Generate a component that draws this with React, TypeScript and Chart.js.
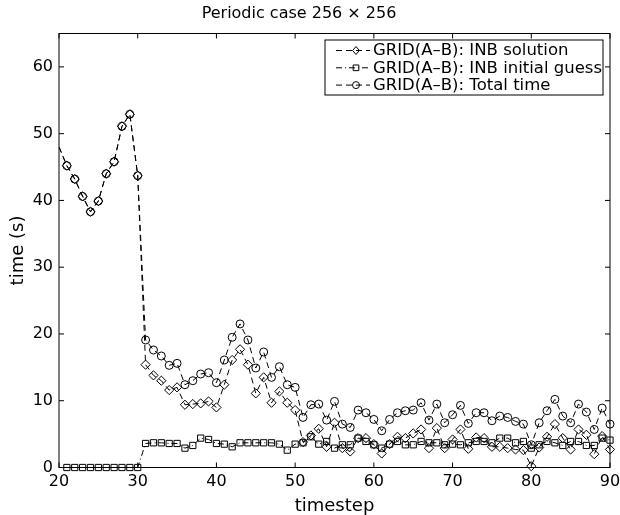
import React, { useEffect, useRef } from "react";
import { Chart, registerables } from "chart.js";

Chart.register(...registerables);

const timesteps = [
  20, 21, 22, 23, 24, 25, 26, 27, 28, 29, 30,
  31, 32, 33, 34, 35, 36, 37, 38, 39, 40,
  41, 42, 43, 44, 45, 46, 47, 48, 49, 50,
  51, 52, 53, 54, 55, 56, 57, 58, 59, 60,
  61, 62, 63, 64, 65, 66, 67, 68, 69, 70,
  71, 72, 73, 74, 75, 76, 77, 78, 79, 80,
  81, 82, 83, 84, 85, 86, 87, 88, 89, 90,
];

const inbSolution = [
  48.0, 45.2, 43.2, 40.6, 38.3, 39.9, 44.0, 45.8, 51.1, 52.9, 43.7,
  15.4, 13.8, 13.0, 11.6, 12.0, 9.4, 9.5, 9.6, 9.9, 9.0,
  12.4, 16.1, 17.7, 15.4, 11.1, 13.5, 9.7, 11.4, 9.7, 8.6,
  3.8, 4.8, 5.8, 3.1, 6.7, 2.9, 2.4, 4.4, 4.4, 3.5,
  2.1, 3.5, 4.6, 4.4, 5.1, 5.7, 2.9, 5.9, 2.9, 4.2,
  5.7, 2.8, 4.5, 4.4, 3.1, 3.1, 2.9, 2.7, 2.6, 0.2,
  3.0, 4.6, 6.5, 4.4, 2.7, 5.7, 4.9, 2.0, 4.7, 2.7,
];

const inbInitialGuess = [
  0, 0, 0, 0, 0, 0, 0, 0, 0, 0, 0,
  3.6, 3.7, 3.7, 3.6, 3.6, 2.9, 3.3, 4.4, 4.2, 3.6,
  3.5, 3.1, 3.7, 3.7, 3.7, 3.7, 3.7, 3.5, 2.6, 3.5,
  3.7, 4.6, 3.5, 3.9, 2.9, 3.4, 3.4, 4.4, 3.9, 3.4,
  2.9, 3.5, 3.9, 3.4, 3.4, 3.9, 3.7, 3.7, 3.4, 3.5,
  3.4, 3.7, 3.9, 3.9, 3.7, 4.4, 4.4, 3.7, 3.9, 2.9,
  3.4, 3.9, 3.7, 3.3, 3.9, 3.9, 3.3, 3.3, 4.4, 4.1,
];

const totalTime = [
  48.0, 45.2, 43.2, 40.6, 38.3, 39.9, 44.0, 45.8, 51.1, 52.9, 43.7,
  19.1, 17.6, 16.7, 15.3, 15.6, 12.4, 13.0, 14.0, 14.2, 12.7,
  16.1, 19.5, 21.5, 19.1, 14.9, 17.3, 13.5, 15.1, 12.4, 12.0,
  7.5, 9.4, 9.5, 7.1, 9.9, 6.5, 6.0, 8.6, 8.2, 7.2,
  5.5, 7.2, 8.2, 8.5, 8.6, 9.7, 7.1, 9.5, 6.7, 7.9,
  9.3, 6.6, 8.2, 8.2, 7.0, 7.7, 7.5, 6.9, 6.5, 3.4,
  6.7, 8.5, 10.2, 7.7, 6.7, 9.5, 8.3, 5.7, 8.9, 6.5,
];

const seriesLabels = [
  "GRID(A\u2013B): INB solution",
  "GRID(A\u2013B): INB initial guess",
  "GRID(A\u2013B): Total time",
];

const chartTitle = "Periodic case 256 \u00d7 256";

const xTicks = [20, 30, 40, 50, 60, 70, 80, 90];
const yTicks = [0, 10, 20, 30, 40, 50, 60];

const FONT = "DejaVu Sans";

function drawMarker(ctx: CanvasRenderingContext2D, style: string, x: number, y: number, r: number) {
  ctx.beginPath();
  if (style === "circle") {
    ctx.arc(x, y, r, 0, Math.PI * 2);
  } else if (style === "rectRot") {
    ctx.moveTo(x, y - r);
    ctx.lineTo(x + r * 0.85, y);
    ctx.lineTo(x, y + r);
    ctx.lineTo(x - r * 0.85, y);
    ctx.closePath();
  } else {
    const s = r * Math.SQRT1_2;
    ctx.rect(x - s, y - s, 2 * s, 2 * s);
  }
  ctx.stroke();
}

const axesPlugin = {
  id: "matlabAxes",
  afterDraw(chart: any) {
    const { ctx, chartArea: a, scales } = chart;
    ctx.save();
    ctx.strokeStyle = "#000";
    ctx.lineWidth = 1;
    ctx.setLineDash([]);
    ctx.strokeRect(a.left, a.top, a.right - a.left, a.bottom - a.top);
    const tl = 5;
    ctx.beginPath();
    xTicks.forEach((v) => {
      const px = scales.x.getPixelForValue(v);
      ctx.moveTo(px, a.bottom);
      ctx.lineTo(px, a.bottom - tl);
      ctx.moveTo(px, a.top);
      ctx.lineTo(px, a.top + tl);
    });
    yTicks.forEach((v) => {
      const py = scales.y.getPixelForValue(v);
      ctx.moveTo(a.left, py);
      ctx.lineTo(a.left + tl, py);
      ctx.moveTo(a.right, py);
      ctx.lineTo(a.right - tl, py);
    });
    ctx.stroke();

    // title
    ctx.fillStyle = "#000";
    ctx.font = `16px "${FONT}"`;
    ctx.textAlign = "center";
    ctx.textBaseline = "alphabetic";
    ctx.fillText(chartTitle, a.left + 240, 17.5);

    // legend
    const lx = a.right - 285;
    const ly = a.top + 6.5;
    const lw = 278;
    const lh = 55;
    ctx.fillStyle = "#fff";
    ctx.fillRect(lx, ly, lw, lh);
    ctx.strokeRect(lx, ly, lw, lh);
    ctx.font = `16.5px "${FONT}"`;
    ctx.textBaseline = "middle";
    ctx.textAlign = "left";
    chart.data.datasets.forEach((ds: any, i: number) => {
      const y = ly + 10.5 + i * 17.3;
      ctx.setLineDash(ds.borderDash || []);
      ctx.beginPath();
      ctx.moveTo(lx + 11, y);
      ctx.lineTo(lx + 45, y);
      ctx.stroke();
      ctx.setLineDash([]);
      drawMarker(ctx, ds.pointStyle, lx + 31, y, ds.legendRadius);
      ctx.fillStyle = "#000";
      ctx.fillText(ds.label, lx + 48, y + 0.5);
    });
    ctx.restore();
  },
};

export default function App() {
  const ref = useRef<HTMLCanvasElement | null>(null);
  useEffect(() => {
    if (!ref.current) return;
    Chart.defaults.font.family = FONT;
    Chart.defaults.color = "#000";
    const mk = (vals: number[]) => timesteps.map((t, i) => ({ x: t, y: vals[i] }));
    const common = {
      borderColor: "#000",
      borderWidth: 1,
      pointBorderColor: "#000",
      pointBackgroundColor: "rgba(0,0,0,0)",
      pointBorderWidth: 1,
      fill: false,
      tension: 0,
      clip: { left: 0, top: 10, right: 10, bottom: 10 },
    };
    const chart = new Chart(ref.current, {
      type: "line",
      data: {
        datasets: [
          {
            ...common,
            label: seriesLabels[0],
            data: mk(inbSolution),
            borderDash: [6, 4],
            pointStyle: "rectRot",
            pointRadius: (c: any) => (c.dataIndex === 0 ? 0 : 4.6),
            legendRadius: 4,
          } as any,
          {
            ...common,
            label: seriesLabels[1],
            data: mk(inbInitialGuess),
            borderDash: [6, 3, 1, 3],
            pointStyle: "rect",
            pointRadius: (c: any) => (c.dataIndex === 0 ? 0 : 4.4),
            legendRadius: 4,
          } as any,
          {
            ...common,
            label: seriesLabels[2],
            data: mk(totalTime),
            borderDash: [6, 4],
            pointStyle: "circle",
            pointRadius: (c: any) => (c.dataIndex === 0 ? 0 : 4),
            legendRadius: 3.5,
          } as any,
        ],
      },
      options: {
        animation: false,
        responsive: false,
        devicePixelRatio: 1,
        layout: { padding: { left: 0, right: 10, top: 33.5, bottom: 0 } },
        plugins: {
          legend: { display: false },
          tooltip: { enabled: false },
          title: { display: false },
        },
        scales: {
          x: {
            type: "linear",
            min: 20,
            max: 90,
            afterFit: (s: any) => {
              s.height = 47.5;
              s.paddingLeft = 0;
              s.paddingRight = 0;
            },
            afterBuildTicks: (s: any) => { s.ticks = xTicks.map((v) => ({ value: v })); },
            grid: { display: false, drawTicks: false },
            border: { display: false },
            ticks: { font: { size: 16 }, padding: 5, color: "#000", maxRotation: 0 },
            title: {
              display: true,
              text: "timestep",
              font: { size: 18 },
              color: "#000",
              padding: { top: 0, bottom: -2 },
            },
          },
          y: {
            type: "linear",
            min: 0,
            max: 65,
            afterFit: (s: any) => {
              s.width = 59;
              s.paddingTop = 0;
              s.paddingBottom = 0;
            },
            afterBuildTicks: (s: any) => { s.ticks = yTicks.map((v) => ({ value: v })); },
            grid: { display: false, drawTicks: false },
            border: { display: false },
            ticks: { font: { size: 16 }, padding: 6, color: "#000" },
            title: {
              display: true,
              text: "time (s)",
              font: { size: 18 },
              color: "#000",
              padding: { top: 8, bottom: 0 },
            },
          },
        },
      },
      plugins: [axesPlugin],
    } as any);
    return () => chart.destroy();
  }, []);
  return (
    <div style={{ position: "absolute", left: 0, top: 0, width: 620, height: 515, background: "#fff" }}>
      <canvas ref={ref} width={620} height={515} />
    </div>
  );
}
